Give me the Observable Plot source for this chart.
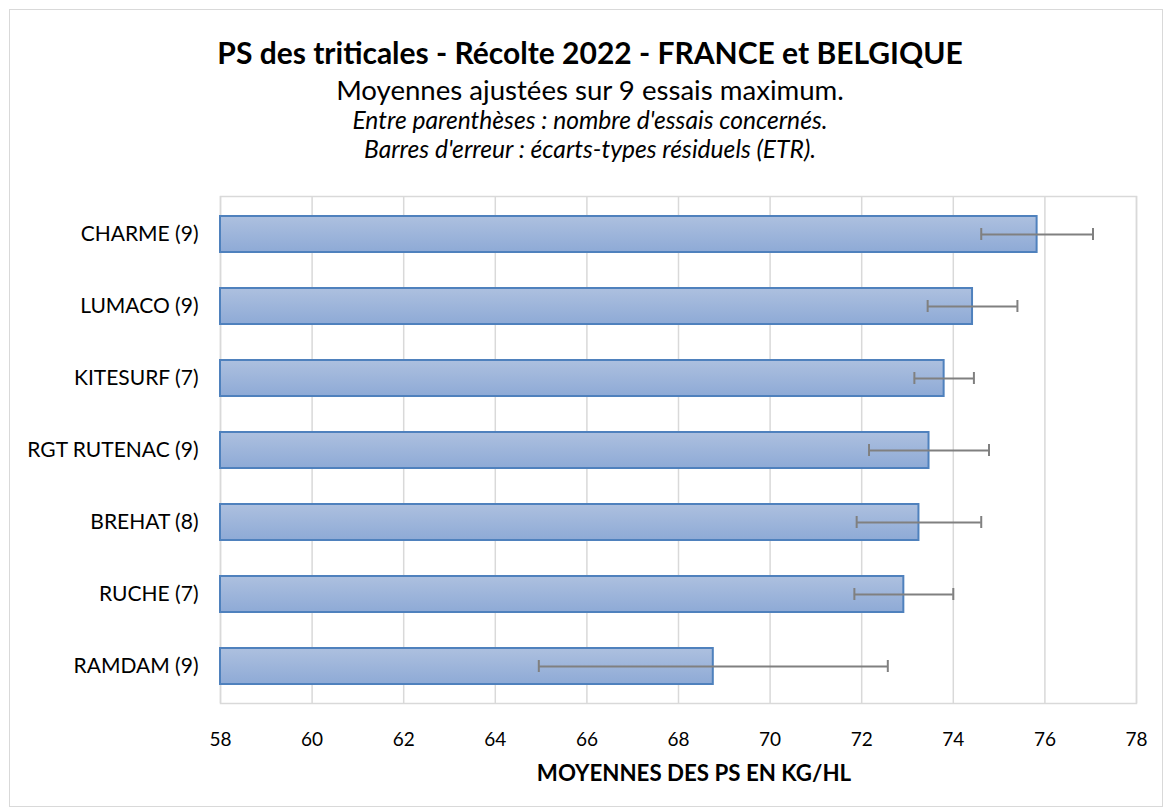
<!DOCTYPE html>
<html>
<head>
<meta charset="utf-8">
<script src="https://cdn.jsdelivr.net/npm/d3@7"></script>
<script src="https://cdn.jsdelivr.net/npm/@observablehq/plot@0.6"></script>
<style>
  html, body { margin: 0; padding: 0; background: #fff; }
  #wrap { position: relative; width: 1165px; height: 811px; font-family: Lato, "Open Sans", sans-serif; color: #000; overflow: hidden; }
  #border { position: absolute; left: 9px; top: 9px; width: 1154px; height: 798px; border: 1.5px solid #d9d9d9; box-sizing: border-box; }
  .t { position: absolute; left: 0; width: 1180px; text-align: center; white-space: nowrap; height: 40px; line-height: 40px; }
  #title { top: 32px; font-size: 30px; font-weight: bold; }
  #sub { top: 70px; font-size: 27.6px; }
  #sub2 { top: 100px; font-size: 24.6px; font-style: italic; }
  #sub3 { top: 129px; font-size: 24.6px; font-style: italic; }
  #xlabel { position: absolute; top: 753px; left: 394px; width: 600px; height: 40px; line-height: 40px; text-align: center; font-size: 22.3px; font-weight: bold; white-space: nowrap; }
  #chart { position: absolute; left: 0; top: 180px; }
</style>
</head>
<body>
<div id="wrap">
  <div id="border"></div>
  <div class="t" id="title">PS des triticales - Récolte 2022 - FRANCE et BELGIQUE</div>
  <div class="t" id="sub">Moyennes ajustées sur 9 essais maximum.</div>
  <div class="t" id="sub2">Entre parenthèses : nombre d'essais concernés.</div>
  <div class="t" id="sub3">Barres d'erreur : écarts-types résiduels (ETR).</div>
  <div id="chart"></div>
  <div id="xlabel">MOYENNES DES PS EN KG/HL</div>
</div>
<script>
const varieties = ["CHARME (9)", "LUMACO (9)", "KITESURF (7)", "RGT RUTENAC (9)", "BREHAT (8)", "RUCHE (7)", "RAMDAM (9)"];
const means = [75.83, 74.42, 73.80, 73.47, 73.25, 72.92, 68.76];
const etr = [1.22, 0.98, 0.65, 1.31, 1.36, 1.08, 3.81];
const xTicks = [58, 60, 62, 64, 66, 68, 70, 72, 74, 76, 78];

const data = varieties.map((v, i) => ({variety: v, mean: means[i], lo: means[i] - etr[i], hi: means[i] + etr[i]}));

const gradientDefs = () => {
  const defs = d3.create("svg:defs");
  const g = defs.append("linearGradient").attr("id", "barGrad").attr("x1", 0).attr("y1", 0).attr("x2", 0).attr("y2", 1);
  g.append("stop").attr("offset", "0%").attr("stop-color", "#adc0df");
  g.append("stop").attr("offset", "100%").attr("stop-color", "#8eaad6");
  return defs.node();
};

const chart = Plot.plot({
  width: 1165,
  height: 631,
  marginLeft: 220,
  marginRight: 29,
  marginTop: 16,
  marginBottom: 108,
  style: {fontFamily: "Lato, 'Open Sans', sans-serif", fontSize: "19px", color: "#000", background: "transparent"},
  x: {domain: [58, 78], ticks: xTicks, tickSize: 0, tickPadding: 29, label: null},
  y: {domain: varieties, paddingInner: 0.5, paddingOuter: 0.25, tickSize: 0, tickPadding: 22, label: null},
  marks: [
    gradientDefs,
    Plot.gridX(xTicks, {stroke: "#d9d9d9", strokeOpacity: 1, strokeWidth: 1.5}),
    Plot.frame({stroke: "#d9d9d9", strokeWidth: 1.5}),
    Plot.barX(data, {x1: 58, x2: "mean", y: "variety", fill: "url(#barGrad)", stroke: "#4f81bd", strokeWidth: 2}),
    Plot.ruleY(data, {x1: "lo", x2: "hi", y: "variety", stroke: "#808080", strokeWidth: 2}),
    Plot.tickX(data, {x: "lo", y: "variety", stroke: "#808080", strokeWidth: 2, insetTop: 12, insetBottom: 12}),
    Plot.tickX(data, {x: "hi", y: "variety", stroke: "#808080", strokeWidth: 2, insetTop: 12, insetBottom: 12}),
    Plot.axisX({ticks: xTicks, tickSize: 0, tickPadding: 29, fontSize: 19}),
    Plot.axisY({tickSize: 0, tickPadding: 22, fontSize: 21})
  ]
});
document.getElementById("chart").appendChild(chart);
</script>
</body>
</html>
